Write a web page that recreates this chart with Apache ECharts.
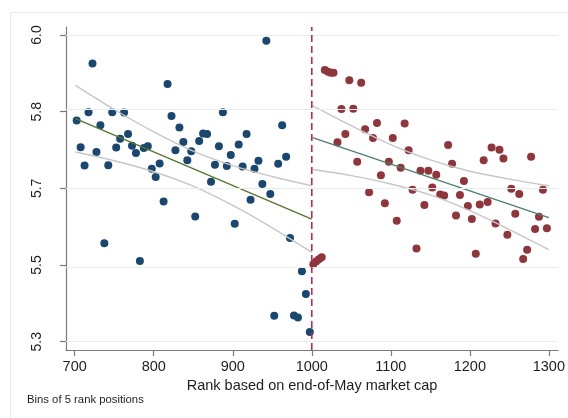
<!DOCTYPE html>
<html>
<head>
<meta charset="utf-8">
<title>Rank bins around the 1000 cutoff</title>
<script src="https://cdn.jsdelivr.net/npm/echarts@6/dist/echarts.min.js"></script>
<style>
  html, body { margin: 0; padding: 0; background: #ffffff; }
  #chart { width: 568px; height: 418px; }
</style>
</head>
<body>
<div id="chart"></div>
<script>
// Binned means, ranks below the cutoff (bins of 5 rank positions)
const leftRank = [702.5, 707.5, 712.5, 717.5, 722.5, 727.5, 732.5, 737.5, 742.5, 747.5,
  752.5, 757.5, 762.5, 767.5, 772.5, 777.5, 782.5, 787.5, 792.5, 797.5,
  802.5, 807.5, 812.5, 817.5, 822.5, 827.5, 832.5, 837.5, 842.5, 847.5,
  852.5, 857.5, 862.5, 867.5, 872.5, 877.5, 882.5, 887.5, 892.5, 897.5,
  902.5, 907.5, 912.5, 917.5, 922.5, 927.5, 932.5, 937.5, 942.5, 947.5,
  952.5, 957.5, 962.5, 967.5, 972.5, 977.5, 982.5, 987.5, 992.5, 997.5];
const leftValue = [5.805, 5.744, 5.702, 5.824, 5.935, 5.733, 5.794, 5.525, 5.703, 5.824,
  5.743, 5.763, 5.823, 5.774, 5.747, 5.731, 5.484, 5.742, 5.746, 5.695,
  5.676, 5.707, 5.620, 5.888, 5.815, 5.737, 5.789, 5.756, 5.714, 5.735,
  5.586, 5.758, 5.775, 5.774, 5.665, 5.704, 5.746, 5.824, 5.701, 5.726,
  5.569, 5.750, 5.700, 5.774, 5.624, 5.695, 5.713, 5.660, 5.987, 5.637,
  5.359, 5.706, 5.794, 5.722, 5.537, 5.360, 5.355, 5.461, 5.409, 5.322];

// Binned means, ranks above the cutoff
const rightRank = [1002, 1005.5, 1009, 1012.5, 1016.5, 1020.5, 1024, 1027.5,
  1032.5, 1037.5, 1042.5, 1047.5, 1052.5, 1057.5, 1062.5, 1067.5, 1072.5, 1077.5,
  1082.5, 1087.5, 1092.5, 1097.5, 1102.5, 1107.5, 1112.5, 1117.5, 1122.5, 1127.5,
  1132.5, 1137.5, 1142.5, 1147.5, 1152.5, 1157.5, 1162.5, 1167.5, 1172.5, 1177.5,
  1182.5, 1187.5, 1192.5, 1197.5, 1202.5, 1207.5, 1212.5, 1217.5, 1222.5, 1227.5,
  1232.5, 1237.5, 1242.5, 1247.5, 1252.5, 1257.5, 1262.5, 1267.5, 1272.5, 1277.5,
  1282.5, 1287.5, 1292.5, 1297.5];
const rightValue = [5.477, 5.483, 5.488, 5.493, 5.920, 5.916, 5.914, 5.914,
  5.755, 5.831, 5.774, 5.897, 5.832, 5.711, 5.891, 5.785, 5.641, 5.765,
  5.799, 5.680, 5.616, 5.711, 5.765, 5.576, 5.697, 5.798, 5.737, 5.647,
  5.513, 5.690, 5.612, 5.690, 5.652, 5.681, 5.636, 5.634, 5.749, 5.706,
  5.588, 5.635, 5.667, 5.610, 5.580, 5.501, 5.613, 5.714, 5.619, 5.743,
  5.570, 5.738, 5.718, 5.544, 5.649, 5.592, 5.637, 5.489, 5.510, 5.722,
  5.557, 5.585, 5.647, 5.559];

// Linear fits and their confidence bands on each side
const fitLeftX = [701, 1000];
const fitLeftY = [5.809, 5.580];
const ciLeftX = [701, 750, 800, 850, 900, 950, 1000];
const ciLeftUpper = [5.885, 5.830, 5.779, 5.735, 5.702, 5.677, 5.656];
const ciLeftLower = [5.733, 5.713, 5.688, 5.655, 5.611, 5.560, 5.504];

const fitRightX = [1001, 1300];
const fitRightY = [5.766, 5.583];
const ciRightX = [1001, 1050, 1100, 1150, 1200, 1250, 1300];
const ciRightUpper = [5.839, 5.793, 5.750, 5.715, 5.689, 5.671, 5.656];
const ciRightLower = [5.693, 5.679, 5.660, 5.635, 5.599, 5.556, 5.510];

const cutoff = 1000;

// Axis ranges and ticks
const xRange = [689, 1311.7];
const yRange = [5.2811, 6.0183];
const xTickValues = [700, 800, 900, 1000, 1100, 1200, 1300];
const xTickLabels = ['700', '800', '900', '1000', '1100', '1200', '1300'];
const yTickValues = [5.3, 5.475, 5.65, 5.825, 6.0];
const yTickLabels = ['5.3', '5.5', '5.7', '5.8', '6.0'];

const zip = (xs, ys) => xs.map((x, i) => [x, ys[i]]);
const labelFor = (values, labels) => (v) => {
  const i = values.findIndex((t) => Math.abs(t - v) < 1e-6);
  return i >= 0 ? labels[i] : '';
};

const FONT = 'Liberation Sans, Arial, sans-serif';
const TEXT = '#1e1e1e';
const AXIS = '#7a7a7a';

const chart = echarts.init(document.getElementById('chart'), null, { renderer: 'canvas' });

const ciStyle = { color: '#c6c6c6', width: 1.4 };

chart.setOption({
  animation: false,
  backgroundColor: '#ffffff',
  textStyle: { fontFamily: FONT },
  grid: { left: 66, right: 6, top: 27, bottom: 68, containLabel: false },
  xAxis: {
    type: 'value',
    min: xRange[0],
    max: xRange[1],
    name: 'Rank based on end-of-May market cap',
    nameLocation: 'middle',
    nameGap: 25,
    nameTextStyle: { fontSize: 14.5, color: TEXT, fontFamily: FONT },
    axisLine: { show: true, lineStyle: { color: AXIS, width: 1.2 } },
    axisTick: { show: true, length: 6, lineStyle: { color: AXIS, width: 1.2 }, customValues: xTickValues },
    axisLabel: {
      fontSize: 14.5, color: TEXT, margin: 9, fontFamily: FONT,
      customValues: xTickValues,
      formatter: labelFor(xTickValues, xTickLabels)
    },
    splitLine: { show: false }
  },
  yAxis: {
    type: 'value',
    min: yRange[0],
    max: yRange[1],
    axisLine: { show: true, lineStyle: { color: AXIS, width: 1.2 } },
    axisTick: { show: true, length: 6, lineStyle: { color: AXIS, width: 1.2 }, customValues: yTickValues },
    axisLabel: {
      fontSize: 14, color: TEXT, rotate: 90, margin: 22, fontFamily: FONT,
      customValues: yTickValues,
      formatter: labelFor(yTickValues, yTickLabels)
    },
    splitLine: { show: false }
  },
  graphic: [
    {
      type: 'rect',
      shape: { x: 10.5, y: 12.5, width: 800, height: 600 },
      style: { fill: null, stroke: '#e3eaee', lineWidth: 1 },
      silent: true, z: -10
    },
    {
      type: 'text',
      left: 27, top: 394,
      style: { text: 'Bins of 5 rank positions', fontSize: 11.3, fill: TEXT, fontFamily: FONT },
      silent: true
    }
  ],
  series: [
    {
      // horizontal grid lines at the y ticks
      type: 'line',
      data: [],
      silent: true,
      z: 0,
      markLine: {
        silent: true,
        symbol: ['none', 'none'],
        label: { show: false },
        lineStyle: { color: '#e5edf0', width: 1.2, type: 'solid' },
        data: yTickValues.map((v) => ({ yAxis: v }))
      }
    },
    {
      type: 'scatter',
      name: 'below',
      data: zip(leftRank, leftValue),
      symbolSize: 8,
      itemStyle: { color: '#1a476f', opacity: 1 },
      z: 2
    },
    {
      type: 'scatter',
      name: 'above',
      data: zip(rightRank, rightValue),
      symbolSize: 8,
      itemStyle: { color: '#90353b', opacity: 1 },
      z: 2
    },
    { type: 'line', data: zip(ciLeftX, ciLeftUpper), smooth: 0.35, showSymbol: false, lineStyle: ciStyle, z: 3, silent: true },
    { type: 'line', data: zip(ciLeftX, ciLeftLower), smooth: 0.35, showSymbol: false, lineStyle: ciStyle, z: 3, silent: true },
    { type: 'line', data: zip(ciRightX, ciRightUpper), smooth: 0.35, showSymbol: false, lineStyle: ciStyle, z: 3, silent: true },
    { type: 'line', data: zip(ciRightX, ciRightLower), smooth: 0.35, showSymbol: false, lineStyle: ciStyle, z: 3, silent: true },
    {
      type: 'line', data: zip(fitLeftX, fitLeftY), showSymbol: false,
      lineStyle: { color: '#55752f', width: 1.3 }, z: 4, silent: true
    },
    {
      type: 'line', data: zip(fitRightX, fitRightY), showSymbol: false,
      lineStyle: { color: '#4e7e6c', width: 1.3 }, z: 4, silent: true
    },
    {
      // cutoff rank, spanning the full plot height
      type: 'line',
      data: [[cutoff, yRange[0]], [cutoff, yRange[1]]],
      showSymbol: false,
      silent: true,
      z: 5,
      lineStyle: { color: '#c42551', width: 1.6, type: [7, 4] }
    }
  ]
});
</script>
</body>
</html>
